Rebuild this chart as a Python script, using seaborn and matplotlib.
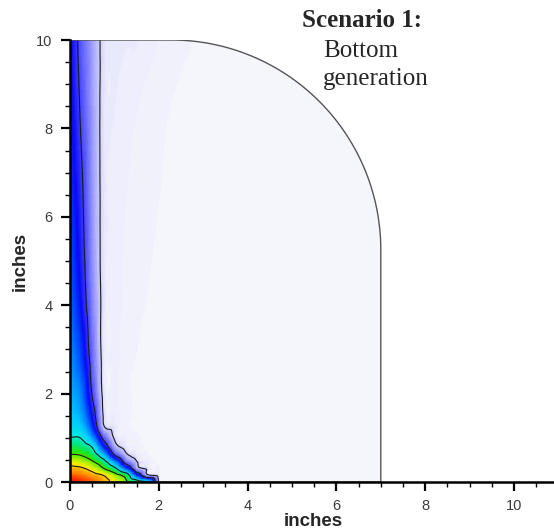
import numpy as np
import matplotlib
matplotlib.use("Agg")
import matplotlib.pyplot as plt
import matplotlib.tri as mtri
from matplotlib.colors import LinearSegmentedColormap
from matplotlib.path import Path
from matplotlib.patches import PathPatch
from matplotlib.ticker import MultipleLocator
import seaborn as sns

# ---- data: normalised concentration sampled on a (non-uniform) grid, inches ----
x_nodes = [0.0, 0.25, 0.5, 0.75, 1.0, 1.25, 1.5, 1.75, 2.0, 2.5, 3.5, 7.0]
y_nodes = [0.0, 0.15, 0.3, 0.45, 0.6, 0.8, 1.0, 1.25, 1.5, 2.0, 3.0, 4.5, 6.5, 8.5, 10.0]

conc_y000 = [1.00, 0.95, 0.88, 0.80, 0.72, 0.64, 0.55, 0.45, 0.025, 0.0, 0.0, 0.0]
conc_y015 = [0.88, 0.85, 0.80, 0.75, 0.66, 0.55, 0.25, 0.05, 0.010, 0.0, 0.0, 0.0]
conc_y030 = [0.79, 0.77, 0.71, 0.61, 0.49, 0.28, 0.07, 0.02, 0.005, 0.0, 0.0, 0.0]
conc_y045 = [0.71, 0.68, 0.62, 0.51, 0.33, 0.12, 0.035, 0.01, 0.003, 0.0, 0.0, 0.0]
conc_y060 = [0.615, 0.60, 0.53, 0.38, 0.16, 0.05, 0.015, 0.005, 0.002, 0.0, 0.0, 0.0]
conc_y080 = [0.53, 0.51, 0.44, 0.23, 0.06, 0.015, 0.008, 0.003, 0.001, 0.0, 0.0, 0.0]
conc_y100 = [0.455, 0.445, 0.33, 0.13, 0.025, 0.01, 0.005, 0.002, 0.001, 0.0, 0.0, 0.0]
conc_y125 = [0.41, 0.38, 0.24, 0.04, 0.015, 0.006, 0.003, 0.002, 0.001, 0.0, 0.0, 0.0]
conc_y150 = [0.38, 0.34, 0.20, 0.028, 0.012, 0.006, 0.003, 0.002, 0.001, 0.0, 0.0, 0.0]
conc_y200 = [0.35, 0.30, 0.145, 0.02, 0.01, 0.005, 0.003, 0.002, 0.001, 0.0, 0.0, 0.0]
conc_y300 = [0.31, 0.24, 0.11, 0.016, 0.01, 0.006, 0.004, 0.003, 0.002, 0.001, 0.0, 0.0]
conc_y450 = [0.27, 0.19, 0.085, 0.018, 0.01, 0.007, 0.005, 0.004, 0.003, 0.001, 0.0, 0.0]
conc_y650 = [0.24, 0.165, 0.075, 0.018, 0.011, 0.008, 0.006, 0.005, 0.004, 0.002, 0.0, 0.0]
conc_y850 = [0.22, 0.14, 0.07, 0.018, 0.012, 0.010, 0.008, 0.006, 0.005, 0.003, 0.001, 0.0]
conc_y1000 = [0.21, 0.125, 0.065, 0.02, 0.014, 0.012, 0.012, 0.010, 0.008, 0.005, 0.002, 0.0]

contour_levels = [0.03, 0.15, 0.45, 0.60, 0.75]

# domain: rectangle 7 x 10 in with a rounded upper-right corner
domain_width = 7.0
domain_height = 10.0
corner_center = (2.28, 5.25)

title_lines = ["Scenario 1:", "Bottom", "generation"]
axis_label = "inches"

# ---- style ----
sns.set_theme(style="ticks")
plt.rcParams["font.family"] = ["Liberation Sans", "DejaVu Sans"]

stops = [
    (0.000, (245, 245, 252)),
    (0.010, (236, 236, 252)),
    (0.030, (205, 205, 252)),
    (0.080, (140, 140, 255)),
    (0.150, (60, 60, 255)),
    (0.200, (10, 10, 245)),
    (0.250, (0, 70, 255)),
    (0.300, (0, 130, 255)),
    (0.370, (0, 200, 255)),
    (0.440, (0, 235, 230)),
    (0.500, (0, 230, 130)),
    (0.580, (50, 230, 0)),
    (0.660, (170, 240, 0)),
    (0.720, (250, 240, 0)),
    (0.800, (255, 165, 0)),
    (0.900, (255, 70, 0)),
    (1.000, (235, 0, 0)),
]
cmap = LinearSegmentedColormap.from_list(
    "plume", [(p, tuple(c / 255 for c in rgb)) for p, rgb in stops]
)

fig = plt.figure(figsize=(5.54, 5.32), dpi=100)
ax = fig.add_axes([70 / 554, 50 / 532, 484 / 554, 442 / 532])

# ---- field on a structured triangulation, smoothed by cubic refinement ----
Z = np.array([conc_y000, conc_y015, conc_y030, conc_y045, conc_y060, conc_y080,
              conc_y100, conc_y125, conc_y150, conc_y200, conc_y300, conc_y450,
              conc_y650, conc_y850, conc_y1000])
X, Y = np.meshgrid(x_nodes, y_nodes)
nx, ny = len(x_nodes), len(y_nodes)
idx = np.arange(nx * ny).reshape(ny, nx)
a = idx[:-1, :-1].ravel()
b = idx[:-1, 1:].ravel()
c = idx[1:, 1:].ravel()
d = idx[1:, :-1].ravel()
triangles = np.concatenate([np.stack([a, b, c], 1), np.stack([a, c, d], 1)])
tri = mtri.Triangulation(X.ravel(), Y.ravel(), triangles)
interp = mtri.CubicTriInterpolator(tri, Z.ravel(), kind="geom")
tri_f, z_f = mtri.UniformTriRefiner(tri).refine_field(Z.ravel(), triinterpolator=interp, subdiv=4)
z_f = np.clip(z_f, 0.0, 1.0)

# ---- domain outline ----
cx, cy = corner_center
rx, ry = domain_width - cx, domain_height - cy
theta = np.linspace(0, np.pi / 2, 120)
verts = [(0.0, 0.0), (domain_width, 0.0)]
verts += list(zip(cx + rx * np.cos(theta), cy + ry * np.sin(theta)))
verts += [(0.0, domain_height), (0.0, 0.0)]
domain = PathPatch(Path(verts, closed=True), facecolor="none",
                   edgecolor="#555555", lw=1.0, transform=ax.transData, zorder=3)

tpc = ax.tripcolor(tri_f, z_f, shading="gouraud", cmap=cmap, vmin=0, vmax=1, zorder=1)
tpc.set_clip_path(domain)
cs = ax.tricontour(tri_f, z_f, levels=contour_levels, colors="#1a1a1a",
                   linewidths=0.8, zorder=2)
cs.set_clip_path(domain)
ax.add_patch(domain)

# ---- axes ----
ax.set_xlim(0, 484 / 44.4)
ax.set_ylim(0, 10)
ax.xaxis.set_major_locator(MultipleLocator(2))
ax.xaxis.set_minor_locator(MultipleLocator(0.5))
ax.yaxis.set_major_locator(MultipleLocator(2))
ax.yaxis.set_minor_locator(MultipleLocator(0.5))
for side in ("top", "right"):
    ax.spines[side].set_visible(False)
for side in ("left", "bottom"):
    ax.spines[side].set_linewidth(1.8)
    ax.spines[side].set_color("black")
    ax.spines[side].set_zorder(5)
ax.tick_params(which="major", direction="out", length=6.5, width=1.6,
               labelsize=10.5, labelcolor="#3a3a3a", pad=6, color="black")
ax.tick_params(which="minor", direction="out", length=3.5, width=1.0, color="black")

ax.set_xlabel(axis_label, fontsize=13.5, fontweight="bold", va="bottom")
ax.set_ylabel(axis_label, fontsize=13.5, fontweight="bold")
ax.xaxis.set_label_coords(0.502, -0.108)
ax.yaxis.set_label_coords(-0.085, 0.5)

# ---- annotation ----
fig.text(302 / 554, 1 - 27 / 532, title_lines[0], family="Liberation Serif",
         fontweight="bold", fontsize=18, va="baseline", ha="left")
fig.text(323 / 554, 1 - 57 / 532, title_lines[1], family="Liberation Serif",
         fontsize=18, va="baseline", ha="left")
fig.text(323 / 554, 1 - 85 / 532, title_lines[2], family="Liberation Serif",
         fontsize=18, va="baseline", ha="left")

fig.savefig("out.png", dpi=100)
